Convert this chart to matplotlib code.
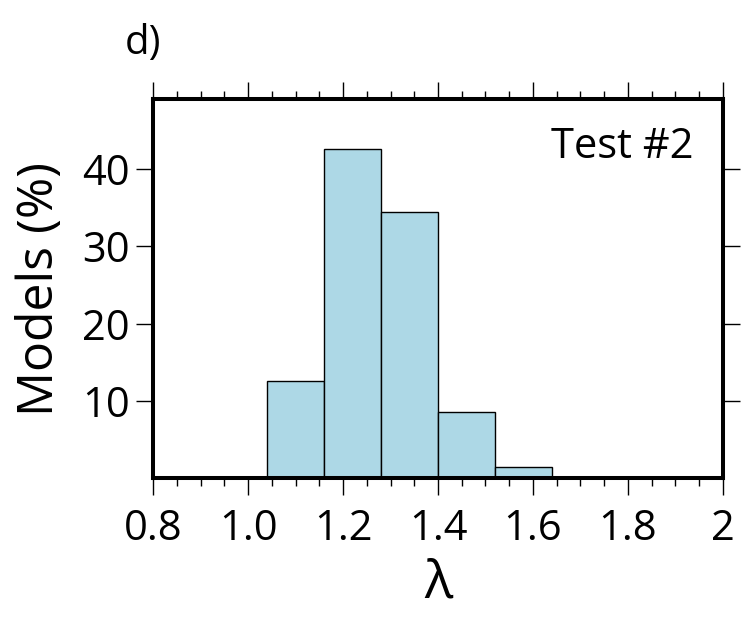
import numpy as np
import matplotlib
matplotlib.use("Agg")
from matplotlib import pyplot as plt
from matplotlib.ticker import MultipleLocator, FixedLocator

plt.rcParams['font.family'] = ['Open Sans', 'DejaVu Sans']

# histogram bins (lambda) and percentage of models per bin
bin_edges = [1.04, 1.16, 1.28, 1.40, 1.52, 1.64]
models_pct = [12.55, 42.6, 34.4, 8.6, 1.5]

fig = plt.figure(figsize=(7.41, 6.19), dpi=100)
ax = fig.add_axes([0.2069, 0.2270, 0.7684, 0.6125])

ax.bar(bin_edges[:-1], models_pct, width=np.diff(bin_edges), align='edge',
       color='lightblue', edgecolor='black', linewidth=1.0, zorder=2)

ax.set_xlim(0.8, 2.0)
ax.set_ylim(0, 49)

ax.xaxis.set_minor_locator(MultipleLocator(0.05))
ax.set_xticks([0.8, 1.0, 1.2, 1.4, 1.6, 1.8, 2.0])
ax.set_xticklabels(['0.8', '1.0', '1.2', '1.4', '1.6', '1.8', '2'])
ax.yaxis.set_major_locator(FixedLocator([10, 20, 30, 40]))

ax.tick_params(axis='both', which='major', direction='out', length=12,
               width=1.0, labelsize=30, pad=5)
ax.tick_params(axis='x', which='major', pad=9)
ax.tick_params(axis='x', which='minor', direction='out', length=6, width=1.0)
ax.tick_params(axis='x', which='both', top=True)
ax.tick_params(axis='y', which='both', right=True)
ax.tick_params(axis='y', which='minor', left=False, right=False)

for s in ax.spines.values():
    s.set_linewidth(2.9)
    s.set_zorder(3)

ax.set_ylabel('Models (%)', fontsize=36, labelpad=12)
ax.set_xlabel('λ', fontsize=38, labelpad=5)

ax.text(0.948, 0.93, 'Test #2', transform=ax.transAxes, ha='right', va='top',
        fontsize=30)
fig.text(0.168, 0.912, 'd)', fontsize=29)

fig.savefig('out.png', dpi=100)
